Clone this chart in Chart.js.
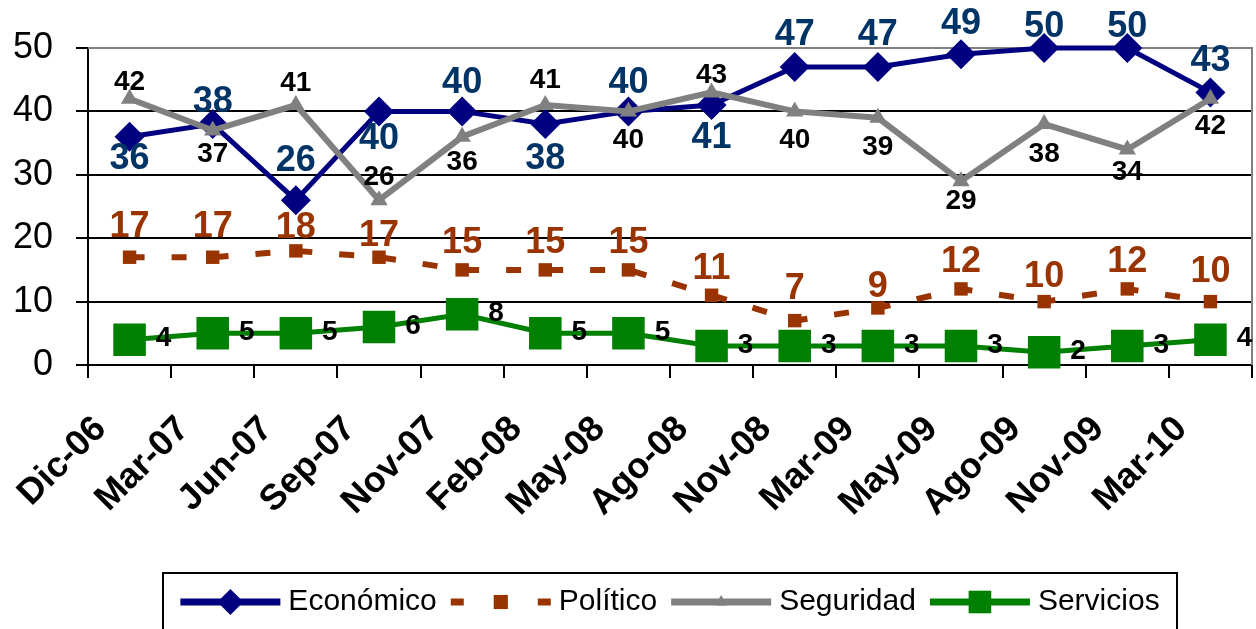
<!DOCTYPE html>
<html>
<head>
<meta charset="utf-8">
<style>
html, body { margin: 0; padding: 0; background: #fff; }
canvas { display: block; }
</style>
</head>
<body>
<canvas id="temasChart" width="1256" height="629"></canvas>
<script src="https://cdn.jsdelivr.net/npm/chart.js@4.4.0/dist/chart.umd.min.js"></script>
<script>
const periodos = ["Dic-06", "Mar-07", "Jun-07", "Sep-07", "Nov-07", "Feb-08", "May-08",
    "Ago-08", "Nov-08", "Mar-09", "May-09", "Ago-09", "Nov-09", "Mar-10"];
const economico = [36, 38, 26, 40, 40, 38, 40, 41, 47, 47, 49, 50, 50, 43];
const politico = [17, 17, 18, 17, 15, 15, 15, 11, 7, 9, 12, 10, 12, 10];
const seguridad = [42, 37, 41, 26, 36, 41, 40, 43, 40, 39, 29, 38, 34, 42];
const servicios = [4, 5, 5, 6, 8, 5, 5, 3, 3, 3, 3, 2, 3, 4];
const yTicks = [0, 10, 20, 30, 40, 50];

const FONT = '"Liberation Sans", Arial, sans-serif';

// where each value label sits relative to its point (px)
const etiquetas = {
    "Económico": { color: "#003366", size: 36, dx: 0, dy: [22, -22, -39, 28, -28, 35, -28, 33, -32, -32, -30, -21, -21, -31] },
    "Político": { color: "#993300", size: 36, dx: 0, dy: [-30, -30, -23, -21, -27, -27, -27, -26, -32, -21, -27, -25, -27, -30] },
    "Seguridad": { color: "#000000", size: 28, dx: 0, dy: [-16, 24, -22, -23, 26, -25, 29, -17, 29, 30, 20, 30, 23, 28] },
    "Servicios": { color: "#000000", size: 28, dx: 34, dy: -1 }
};

const leyendaMarcas = {
    "Económico": { pointStyle: "rectRot", radius: 13 },
    "Político": { pointStyle: "rect", radius: 10 },
    "Seguridad": { pointStyle: "triangle", radius: 7 },
    "Servicios": { pointStyle: "rect", radius: 16 }
};

const etiquetasPlugin = {
    id: "etiquetas",
    afterDatasetsDraw(chart) {
        const ctx = chart.ctx;
        chart.data.datasets.forEach((ds, i) => {
            const cfg = etiquetas[ds.label];
            const meta = chart.getDatasetMeta(i);
            ctx.save();
            ctx.font = "bold " + cfg.size + "px " + FONT;
            ctx.fillStyle = cfg.color;
            ctx.textAlign = "center";
            ctx.textBaseline = "middle";
            meta.data.forEach((pt, j) => {
                const dy = Array.isArray(cfg.dy) ? cfg.dy[j] : cfg.dy;
                ctx.fillText(String(ds.data[j]), pt.x + cfg.dx, pt.y + dy);
            });
            ctx.restore();
        });
    }
};

const bordePlugin = {
    id: "borde",
    beforeDatasetsDraw(chart) {
        const ctx = chart.ctx;
        const a = chart.chartArea;
        ctx.save();
        ctx.strokeStyle = "#808080";
        ctx.lineWidth = 2;
        ctx.beginPath();
        ctx.moveTo(a.left, a.top);
        ctx.lineTo(a.right, a.top);
        ctx.lineTo(a.right, a.bottom);
        ctx.stroke();
        ctx.restore();
    }
};

const leyendaPlugin = {
    id: "leyenda",
    afterDraw(chart) {
        const ctx = chart.ctx;
        const left = 163, right = 1177, top = 573, cy = 602;
        const symW = 100, gapText = 8, gapItem = 14;
        ctx.save();
        ctx.strokeStyle = "#000";
        ctx.lineWidth = 2;
        ctx.strokeRect(left, top, right - left, 80);
        ctx.font = "30px " + FONT;
        ctx.textBaseline = "middle";

        let total = gapItem * (chart.data.datasets.length - 1);
        chart.data.datasets.forEach(ds => {
            total += symW + gapText + ctx.measureText(ds.label).width;
        });
        let x = (left + right) / 2 - total / 2;

        chart.data.datasets.forEach(ds => {
            ctx.save();
            ctx.strokeStyle = ds.borderColor;
            ctx.fillStyle = ds.borderColor;
            ctx.lineWidth = 7;
            ctx.setLineDash(ds.borderDash ? [13, 30.5] : []);
            ctx.beginPath();
            ctx.moveTo(x, cy);
            ctx.lineTo(x + symW, cy);
            ctx.stroke();
            ctx.setLineDash([]);
            const m = leyendaMarcas[ds.label];
            Chart.helpers.drawPoint(ctx, { pointStyle: m.pointStyle, radius: m.radius, rotation: 0, borderWidth: 0 }, x + symW / 2, cy);
            ctx.restore();

            x += symW + gapText;
            ctx.fillStyle = "#000";
            ctx.fillText(ds.label, x, cy);
            x += ctx.measureText(ds.label).width + gapItem;
        });
        ctx.restore();
    }
};

new Chart(document.getElementById("temasChart").getContext("2d"), {
    type: "line",
    data: {
        labels: periodos,
        datasets: [{
            label: "Económico",
            data: economico,
            borderColor: "#000080",
            backgroundColor: "#000080",
            borderWidth: 5,
            pointStyle: "rectRot",
            pointRadius: 15,
            pointBorderWidth: 0,
            clip: false,
            order: 4
        }, {
            label: "Político",
            data: politico,
            borderColor: "#993300",
            backgroundColor: "#993300",
            borderWidth: 6,
            borderDash: [15, 27],
            pointStyle: "rect",
            pointRadius: 9.5,
            pointBorderWidth: 0,
            clip: false,
            order: 3
        }, {
            label: "Seguridad",
            data: seguridad,
            borderColor: "#808080",
            backgroundColor: "#808080",
            borderWidth: 6,
            pointStyle: "triangle",
            pointRadius: 10,
            pointBorderWidth: 0,
            clip: false,
            order: 2
        }, {
            label: "Servicios",
            data: servicios,
            borderColor: "#008000",
            backgroundColor: "#008000",
            borderWidth: 5,
            pointStyle: "rect",
            pointRadius: 23,
            pointBorderWidth: 0,
            clip: false,
            order: 1
        }]
    },
    options: {
        responsive: false,
        animation: false,
        devicePixelRatio: 1,
        layout: {
            autoPadding: false,
            padding: { top: 48, right: 4, bottom: 64, left: 0 }
        },
        plugins: {
            legend: { display: false },
            tooltip: { enabled: false }
        },
        scales: {
            x: {
                offset: true,
                afterFit: function(scale) {
                    scale.height = 200;
                    scale.paddingLeft = 0;
                    scale.paddingRight = 0;
                },
                ticks: {
                    color: "#000",
                    font: { family: FONT, size: 36, weight: "bold" },
                    minRotation: 45,
                    maxRotation: 45,
                    autoSkip: false,
                    labelOffset: -29,
                    padding: 30
                },
                grid: {
                    offset: true,
                    drawOnChartArea: false,
                    tickLength: 13,
                    color: "#000",
                    lineWidth: 2
                },
                border: { color: "#000", width: 2 }
            },
            y: {
                min: yTicks[0],
                max: yTicks[yTicks.length - 1],
                afterFit: function(scale) { scale.width = 88; },
                afterBuildTicks: function(scale) {
                    scale.ticks = yTicks.map(v => ({ value: v }));
                },
                ticks: {
                    color: "#000",
                    font: { family: FONT, size: 36 },
                    padding: 23
                },
                grid: {
                    color: function(c) { return c.tick && c.tick.value === 50 ? "#808080" : "#000"; },
                    tickColor: "#000",
                    lineWidth: 2,
                    tickLength: 12
                },
                border: { color: "#000", width: 2 }
            }
        }
    },
    plugins: [bordePlugin, etiquetasPlugin, leyendaPlugin]
});
</script>
</body>
</html>
